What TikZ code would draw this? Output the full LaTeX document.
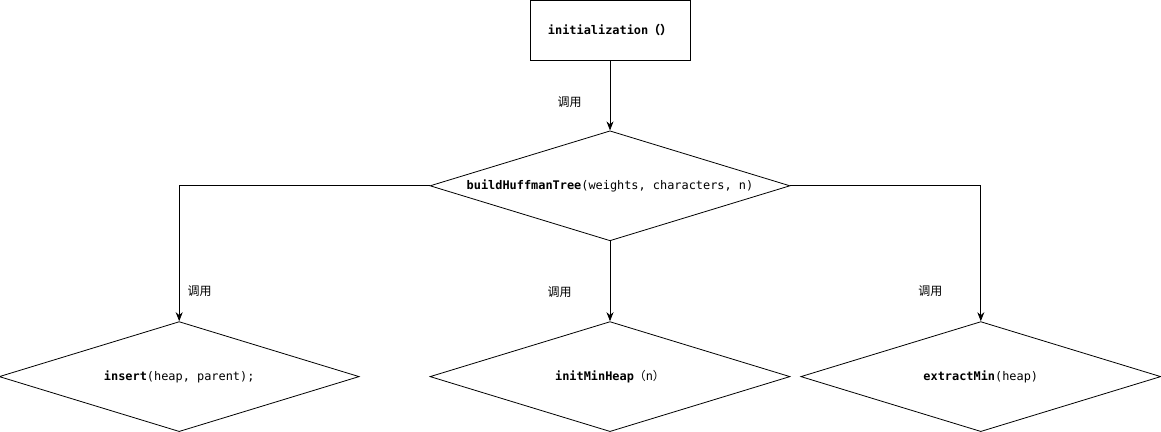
\documentclass[tikz,border=0pt]{standalone}
\usepackage{fontspec}
\setmonofont{DejaVu Sans Mono}
\newfontfamily\cjk{Noto Sans CJK SC}
\usetikzlibrary{positioning, arrows.meta, shapes.geometric}

\begin{document}
\begin{tikzpicture}[
    font=\ttfamily\fontsize{11.9}{13}\selectfont, line width=0.8pt,
    func/.style={draw=black, fill=white, minimum width=160pt, minimum height=60pt, inner sep=0pt},
    call/.style={diamond, draw=black, fill=white, aspect=3.27, inner sep=0pt,
                 minimum width=360pt, minimum height=110pt},
    flow/.style={-{Stealth[length=9pt, width=7pt]}, draw=black},
    lbl/.style={font=\cjk\fontsize{12}{13}\selectfont, inner sep=0pt}
]
\useasboundingbox (0,0) rectangle (1161pt,-431pt);
\node[func] (init) at (610pt,-30pt) {\textbf{initialization{\cjk（）}}};
\node[call, below=70pt of init] (build) {\textbf{buildHuffmanTree}(weights, characters, n)};
\node[call, below=80pt of build] (imh) {\textbf{initMinHeap}{\cjk（}n{\cjk）}};
\node[call, left=70pt of imh] (ins) {\textbf{insert}(heap, parent);};
\node[call, right=10pt of imh] (ext) {\textbf{extractMin}(heap)};
\draw[flow] (init) -- node[lbl, pos=.6, left=28pt] {调用} (build);
\draw[flow] (build.west) -| node[lbl, pos=.89, right=8pt] {调用} (ins.north);
\draw[flow] (build.south) -- node[lbl, pos=.64, left=38pt] {调用} (imh.north);
\draw[flow] (build.east) -| node[lbl, pos=.89, left=38pt] {调用} (ext.north);
\end{tikzpicture}
\end{document}
